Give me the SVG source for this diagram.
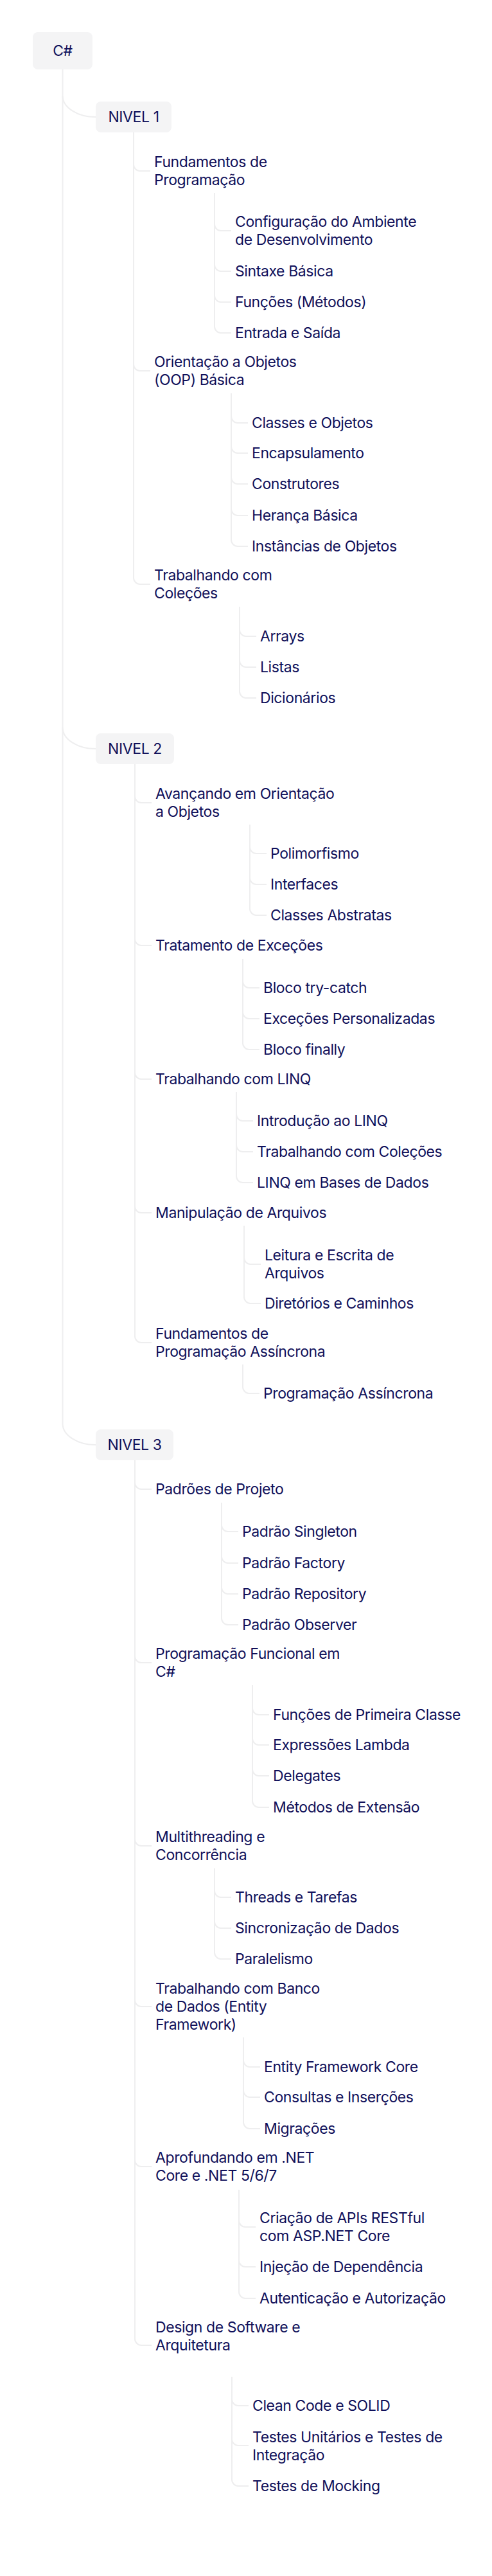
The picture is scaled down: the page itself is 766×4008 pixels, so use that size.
<svg xmlns="http://www.w3.org/2000/svg" width="766" height="4008" viewBox="0 0 766 4008">
<style>
.t{font-family:Inter,"Noto Sans","Liberation Sans",sans-serif;font-size:23px;letter-spacing:-0.4px;fill:#10105a;}
.m{text-anchor:middle;}
.box{fill:#f4f4f5;}
.c{fill:none;stroke:#eeeeef;stroke-width:2;}
</style>
<rect width="766" height="4008" fill="#ffffff"/>
<g id="connectors" class="c">
<path d="M97.5,108 V2215 A51.5,33 0 0 0 149,2248"/>
<path d="M97.5,149 A51.5,33 0 0 0 149,182"/>
<path d="M97.5,1132 A51.5,33 0 0 0 149,1165"/>
<!-- NIVEL 1 -->
<path d="M208,206 V899 A10,10 0 0 0 218,909 H234"/>
<path d="M208,256 A10,10 0 0 0 218,266 H234"/>
<path d="M208,567 A10,10 0 0 0 218,577 H234"/>
<path d="M334,300 V508 A10,10 0 0 0 344,518 H360"/>
<path d="M334,349 A10,10 0 0 0 344,359 H360"/>
<path d="M334,412 A10,10 0 0 0 344,422 H360"/>
<path d="M334,460 A10,10 0 0 0 344,470 H360"/>
<path d="M360,612 V840 A10,10 0 0 0 370,850 H386"/>
<path d="M360,648 A10,10 0 0 0 370,658 H386"/>
<path d="M360,695 A10,10 0 0 0 370,705 H386"/>
<path d="M360,743 A10,10 0 0 0 370,753 H386"/>
<path d="M360,792 A10,10 0 0 0 370,802 H386"/>
<path d="M373,944 V1076 A10,10 0 0 0 383,1086 H399"/>
<path d="M373,980 A10,10 0 0 0 383,990 H399"/>
<path d="M373,1028 A10,10 0 0 0 383,1038 H399"/>
<!-- NIVEL 2 -->
<path d="M210,1189 V2079 A10,10 0 0 0 220,2089 H236"/>
<path d="M210,1239 A10,10 0 0 0 220,1249 H236"/>
<path d="M210,1461 A10,10 0 0 0 220,1471 H236"/>
<path d="M210,1669 A10,10 0 0 0 220,1679 H236"/>
<path d="M210,1877 A10,10 0 0 0 220,1887 H236"/>
<path d="M389,1283 V1414 A10,10 0 0 0 399,1424 H415"/>
<path d="M389,1318 A10,10 0 0 0 399,1328 H415"/>
<path d="M389,1366 A10,10 0 0 0 399,1376 H415"/>
<path d="M378,1492 V1623 A10,10 0 0 0 388,1633 H404"/>
<path d="M378,1527 A10,10 0 0 0 388,1537 H404"/>
<path d="M378,1575 A10,10 0 0 0 388,1585 H404"/>
<path d="M368,1699 V1830 A10,10 0 0 0 378,1840 H394"/>
<path d="M368,1734 A10,10 0 0 0 378,1744 H394"/>
<path d="M368,1782 A10,10 0 0 0 378,1792 H394"/>
<path d="M380,1907 V2018 A10,10 0 0 0 390,2028 H406"/>
<path d="M380,1957 A10,10 0 0 0 390,1967 H406"/>
<path d="M378,2123 V2158 A10,10 0 0 0 388,2168 H404"/>
<!-- NIVEL 3 -->
<path d="M210,2272 V3639 A10,10 0 0 0 220,3649 H236"/>
<path d="M210,2307 A10,10 0 0 0 220,2317 H236"/>
<path d="M210,2577 A10,10 0 0 0 220,2587 H236"/>
<path d="M210,2862 A10,10 0 0 0 220,2872 H236"/>
<path d="M210,3112 A10,10 0 0 0 220,3122 H236"/>
<path d="M210,3361 A10,10 0 0 0 220,3371 H236"/>
<path d="M345,2338 V2518 A10,10 0 0 0 355,2528 H371"/>
<path d="M345,2373 A10,10 0 0 0 355,2383 H371"/>
<path d="M345,2422 A10,10 0 0 0 355,2432 H371"/>
<path d="M345,2470 A10,10 0 0 0 355,2480 H371"/>
<path d="M393,2622 V2802 A10,10 0 0 0 403,2812 H419"/>
<path d="M393,2658 A10,10 0 0 0 403,2668 H419"/>
<path d="M393,2705 A10,10 0 0 0 403,2715 H419"/>
<path d="M393,2753 A10,10 0 0 0 403,2763 H419"/>
<path d="M334,2907 V3038 A10,10 0 0 0 344,3048 H360"/>
<path d="M334,2942 A10,10 0 0 0 344,2952 H360"/>
<path d="M334,2990 A10,10 0 0 0 344,3000 H360"/>
<path d="M379,3170 V3302 A10,10 0 0 0 389,3312 H405"/>
<path d="M379,3206 A10,10 0 0 0 389,3216 H405"/>
<path d="M379,3253 A10,10 0 0 0 389,3263 H405"/>
<path d="M372,3407 V3566 A10,10 0 0 0 382,3576 H398"/>
<path d="M372,3455 A10,10 0 0 0 382,3465 H398"/>
<path d="M372,3517 A10,10 0 0 0 382,3527 H398"/>
<path d="M361,3698 V3858 A10,10 0 0 0 371,3868 H387"/>
<path d="M361,3733 A10,10 0 0 0 371,3743 H387"/>
<path d="M361,3795 A10,10 0 0 0 371,3805 H387"/>
</g>

<g id="root"><rect class="box" x="51" y="50" width="93" height="58" rx="8"/><text class="t m" x="97.5" y="87">C#</text></g>

<g id="nivel1"><rect class="box" x="149" y="158" width="118" height="48" rx="8"/><text class="t m" x="208" y="190">NIVEL 1</text></g>
<g id="fundamentos"><text class="t"><tspan x="240" y="260">Fundamentos de</tspan><tspan x="240" y="288">Programação</tspan></text></g>
<g id="configuracao"><text class="t"><tspan x="366" y="353">Configuração do Ambiente</tspan><tspan x="366" y="381">de Desenvolvimento</tspan></text></g>
<g id="sintaxe"><text class="t" x="366" y="430">Sintaxe Básica</text></g>
<g id="funcoes"><text class="t" x="366" y="478">Funções (Métodos)</text></g>
<g id="entrada"><text class="t" x="366" y="526">Entrada e Saída</text></g>
<g id="oop"><text class="t"><tspan x="240" y="571">Orientação a Objetos</tspan><tspan x="240" y="599">(OOP) Básica</tspan></text></g>
<g id="classes"><text class="t" x="392" y="666">Classes e Objetos</text></g>
<g id="encapsulamento"><text class="t" x="392" y="713">Encapsulamento</text></g>
<g id="construtores"><text class="t" x="392" y="761">Construtores</text></g>
<g id="heranca"><text class="t" x="392" y="810">Herança Básica</text></g>
<g id="instancias"><text class="t" x="392" y="858">Instâncias de Objetos</text></g>
<g id="colecoes"><text class="t"><tspan x="240" y="903">Trabalhando com</tspan><tspan x="240" y="931">Coleções</tspan></text></g>
<g id="arrays"><text class="t" x="405" y="998">Arrays</text></g>
<g id="listas"><text class="t" x="405" y="1046">Listas</text></g>
<g id="dicionarios"><text class="t" x="405" y="1094">Dicionários</text></g>

<g id="nivel2"><rect class="box" x="149" y="1141" width="122" height="48" rx="8"/><text class="t m" x="210" y="1173">NIVEL 2</text></g>
<g id="avancando"><text class="t"><tspan x="242" y="1243">Avançando em Orientação</tspan><tspan x="242" y="1271">a Objetos</tspan></text></g>
<g id="polimorfismo"><text class="t" x="421" y="1336">Polimorfismo</text></g>
<g id="interfaces"><text class="t" x="421" y="1384">Interfaces</text></g>
<g id="abstratas"><text class="t" x="421" y="1432">Classes Abstratas</text></g>
<g id="tratamento"><text class="t" x="242" y="1479">Tratamento de Exceções</text></g>
<g id="trycatch"><text class="t" x="410" y="1545">Bloco try-catch</text></g>
<g id="personalizadas"><text class="t" x="410" y="1593">Exceções Personalizadas</text></g>
<g id="finally"><text class="t" x="410" y="1641">Bloco finally</text></g>
<g id="linq"><text class="t" x="242" y="1687">Trabalhando com LINQ</text></g>
<g id="introlinq"><text class="t" x="400" y="1752">Introdução ao LINQ</text></g>
<g id="linqcolecoes"><text class="t" x="400" y="1800">Trabalhando com Coleções</text></g>
<g id="linqbd"><text class="t" x="400" y="1848">LINQ em Bases de Dados</text></g>
<g id="arquivos"><text class="t" x="242" y="1895">Manipulação de Arquivos</text></g>
<g id="leitura"><text class="t"><tspan x="412" y="1961">Leitura e Escrita de</tspan><tspan x="412" y="1989">Arquivos</tspan></text></g>
<g id="diretorios"><text class="t" x="412" y="2036">Diretórios e Caminhos</text></g>
<g id="fundassinc"><text class="t"><tspan x="242" y="2083">Fundamentos de</tspan><tspan x="242" y="2111">Programação Assíncrona</tspan></text></g>
<g id="progassinc"><text class="t" x="410" y="2176">Programação Assíncrona</text></g>

<g id="nivel3"><rect class="box" x="149" y="2224" width="121" height="48" rx="8"/><text class="t m" x="209.5" y="2256">NIVEL 3</text></g>
<g id="padroes"><text class="t" x="242" y="2325">Padrões de Projeto</text></g>
<g id="singleton"><text class="t" x="377" y="2391">Padrão Singleton</text></g>
<g id="factory"><text class="t" x="377" y="2440">Padrão Factory</text></g>
<g id="repository"><text class="t" x="377" y="2488">Padrão Repository</text></g>
<g id="observer"><text class="t" x="377" y="2536">Padrão Observer</text></g>
<g id="funcional"><text class="t"><tspan x="242" y="2581">Programação Funcional em</tspan><tspan x="242" y="2609">C#</tspan></text></g>
<g id="primeiraclasse"><text class="t" x="425" y="2676">Funções de Primeira Classe</text></g>
<g id="lambda"><text class="t" x="425" y="2723">Expressões Lambda</text></g>
<g id="delegates"><text class="t" x="425" y="2771">Delegates</text></g>
<g id="extensao"><text class="t" x="425" y="2820">Métodos de Extensão</text></g>
<g id="multithreading"><text class="t"><tspan x="242" y="2866">Multithreading e</tspan><tspan x="242" y="2894">Concorrência</tspan></text></g>
<g id="threads"><text class="t" x="366" y="2960">Threads e Tarefas</text></g>
<g id="sincronizacao"><text class="t" x="366" y="3008">Sincronização de Dados</text></g>
<g id="paralelismo"><text class="t" x="366" y="3056">Paralelismo</text></g>
<g id="banco"><text class="t"><tspan x="242" y="3102">Trabalhando com Banco</tspan><tspan x="242" y="3130">de Dados (Entity</tspan><tspan x="242" y="3158">Framework)</tspan></text></g>
<g id="efcore"><text class="t" x="411" y="3224">Entity Framework Core</text></g>
<g id="consultas"><text class="t" x="411" y="3271">Consultas e Inserções</text></g>
<g id="migracoes"><text class="t" x="411" y="3320">Migrações</text></g>
<g id="dotnet"><text class="t"><tspan x="242" y="3365">Aprofundando em .NET</tspan><tspan x="242" y="3393">Core e .NET 5/6/7</tspan></text></g>
<g id="apis"><text class="t"><tspan x="404" y="3459">Criação de APIs RESTful</tspan><tspan x="404" y="3487">com ASP.NET Core</tspan></text></g>
<g id="injecao"><text class="t" x="404" y="3535">Injeção de Dependência</text></g>
<g id="autenticacao"><text class="t" x="404" y="3584">Autenticação e Autorização</text></g>
<g id="design"><text class="t"><tspan x="242" y="3629">Design de Software e</tspan><tspan x="242" y="3657">Arquitetura</tspan></text></g>
<g id="cleancode"><text class="t" x="393" y="3751">Clean Code e SOLID</text></g>
<g id="testes"><text class="t"><tspan x="393" y="3800">Testes Unitários e Testes de</tspan><tspan x="393" y="3828">Integração</tspan></text></g>
<g id="mocking"><text class="t" x="393" y="3876">Testes de Mocking</text></g>
</svg>
